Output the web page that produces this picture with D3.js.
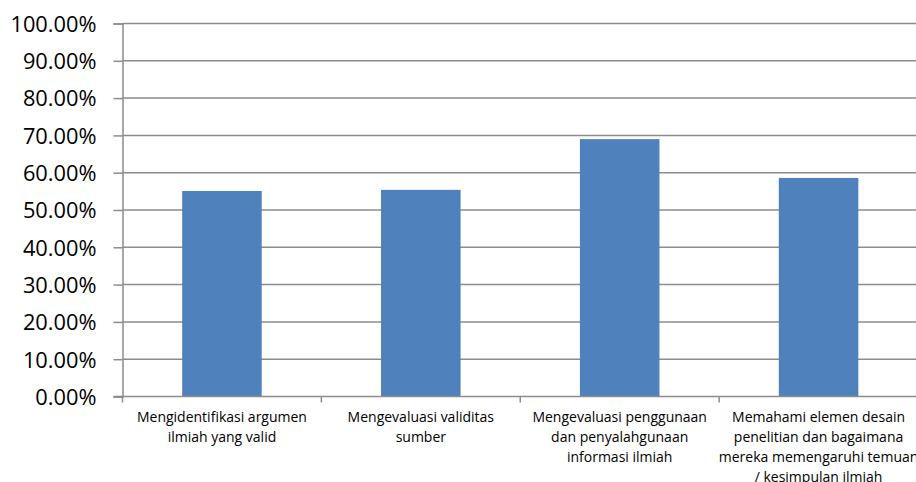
<!DOCTYPE html>
<html>
<head>
<meta charset="utf-8">
<script src="https://cdn.jsdelivr.net/npm/d3@7"></script>
<style>
  body { margin: 0; background: #fff; }
  svg { display: block; }
  .tick text { fill: #000; }
</style>
</head>
<body>
<svg id="chart" width="916" height="482"></svg>
<script>
// data
const categories = [
  "Mengidentifikasi argumen ilmiah yang valid",
  "Mengevaluasi validitas sumber",
  "Mengevaluasi penggunaan dan penyalahgunaan informasi ilmiah",
  "Memahami elemen desain penelitian dan bagaimana mereka memengaruhi temuan / kesimpulan ilmiah"
]
const label_lines = [
  ["Mengidentifikasi argumen", "ilmiah yang valid"],
  ["Mengevaluasi validitas", "sumber"],
  ["Mengevaluasi penggunaan", "dan penyalahgunaan", "informasi ilmiah"],
  ["Memahami elemen desain", "penelitian dan bagaimana", "mereka memengaruhi temuan", "/ kesimpulan ilmiah"]
]
const values = [0.551, 0.554, 0.690, 0.586]
const y_ticks = [0, 0.1, 0.2, 0.3, 0.4, 0.5, 0.6, 0.7, 0.8, 0.9, 1.0]

const margin = {top: 23.5, right: -2, bottom: 85.5, left: 122.5}
const width = 916, height = 482
const svg = d3.select("#chart")
const font = "'Open Sans', sans-serif"

const x = d3.scaleBand()
  .domain(categories)
  .range([margin.left, width - margin.right])
  .paddingInner(0.6)
  .paddingOuter(0.3)

const y = d3.scaleLinear()
  .domain([0, 1])
  .range([height - margin.bottom, margin.top])

// gridlines
svg.append("g")
  .selectAll("line")
  .data(y_ticks.slice(1))
  .enter().append("line")
  .attr("x1", margin.left)
  .attr("x2", width)
  .attr("y1", d => y(d))
  .attr("y2", d => y(d))
  .attr("stroke", "#8c8c8c")
  .attr("stroke-width", 1.5)

// bars
svg.append("g")
  .selectAll("rect")
  .data(values)
  .enter().append("rect")
  .attr("x", (d, i) => x(categories[i]))
  .attr("width", x.bandwidth())
  .attr("y", d => y(d))
  .attr("height", d => y(0) - y(d))
  .attr("fill", "#4f81bd")

// y axis
let y_axis = d3.axisLeft(y)
  .tickValues(y_ticks)
  .tickFormat(d => (d * 100).toFixed(2) + "%")
  .tickSize(9)
  .tickPadding(17)

let gy = svg.append("g")
  .attr("transform", `translate(${margin.left}, 0)`)
  .call(y_axis)
gy.selectAll("path, line").attr("stroke", "#8c8c8c").attr("stroke-width", 1.5)
gy.selectAll("text")
  .attr("font-family", font)
  .attr("font-size", 21.8)
  .attr("dy", "0.36em")

// x axis: ticks at band boundaries
let step = x.step()
let bounds = categories.map((c, i) => x(c) - x.paddingInner() * step / 2)
bounds.push(width - margin.right)
let gx = svg.append("g")
gx.append("line")
  .attr("x1", margin.left - 9).attr("x2", width)
  .attr("y1", y(0)).attr("y2", y(0))
  .attr("stroke", "#8c8c8c").attr("stroke-width", 1.5)
gx.selectAll("line.tk")
  .data(bounds)
  .enter().append("line")
  .attr("class", "tk")
  .attr("x1", d => d).attr("x2", d => d)
  .attr("y1", y(0)).attr("y2", y(0) + 6)
  .attr("stroke", "#8c8c8c").attr("stroke-width", 1.5)

let labels = gx.selectAll("text")
  .data(label_lines)
  .enter().append("text")
  .attr("text-anchor", "middle")
  .attr("font-family", font)
  .attr("font-size", 14)
  .attr("fill", "#000")
labels.selectAll("tspan")
  .data((d, i) => d.map(t => ({t, i})))
  .enter().append("tspan")
  .attr("x", d => x(categories[d.i]) + x.bandwidth() / 2)
  .attr("y", (d, j) => y(0) + 25 + j * 20.3)
  .text(d => d.t)
</script>
</body>
</html>
